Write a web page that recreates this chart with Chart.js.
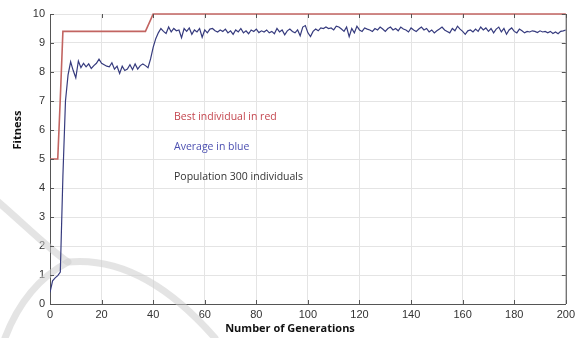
<!DOCTYPE html>
<html>
<head>
<meta charset="utf-8">
<script src="https://cdn.jsdelivr.net/npm/chart.js@4.4.1/dist/chart.umd.min.js"></script>
<style>
    body { margin: 0; background: #fff; }
    #wrap { width: 579px; height: 338px; position: relative; }
</style>
</head>
<body>
<div id="wrap"><canvas id="fitnessChart"></canvas></div>
<script>
// Best individual: step points (generation, fitness)
const bestGen     = [0, 3, 4, 5, 37, 38, 39, 40, 200];
const bestFitness = [5, 5, 7.1, 9.4, 9.4, 9.6, 9.8, 10, 10];

// Population average, one value per generation 0..200
const averageFitness = [
    0.40, 0.80, 0.90, 0.98, 1.10, 4.40, 7.00, 7.90, 8.35, 8.05,
    7.80, 8.38, 8.15, 8.30, 8.18, 8.28, 8.12, 8.22, 8.30, 8.44,
    8.30, 8.25, 8.20, 8.18, 8.32, 8.10, 8.20, 7.95, 8.20, 8.05,
    8.10, 8.25, 8.08, 8.28, 8.10, 8.22, 8.28, 8.22, 8.15, 8.45,
    8.85, 9.15, 9.35, 9.50, 9.40, 9.33, 9.55, 9.38, 9.50, 9.42,
    9.45, 9.18, 9.50, 9.40, 9.52, 9.30, 9.45, 9.38, 9.50, 9.20,
    9.45, 9.35, 9.48, 9.50, 9.42, 9.38, 9.45, 9.40, 9.48, 9.35,
    9.42, 9.30, 9.45, 9.38, 9.50, 9.35, 9.42, 9.32, 9.45, 9.40,
    9.48, 9.36, 9.42, 9.38, 9.45, 9.35, 9.40, 9.32, 9.50, 9.38,
    9.45, 9.28, 9.42, 9.48, 9.40, 9.35, 9.45, 9.25, 9.55, 9.60,
    9.35, 9.22, 9.40, 9.48, 9.42, 9.52, 9.50, 9.55, 9.50, 9.52,
    9.45, 9.58, 9.55, 9.48, 9.40, 9.55, 9.22, 9.50, 9.35, 9.58,
    9.45, 9.40, 9.52, 9.48, 9.45, 9.40, 9.50, 9.45, 9.55, 9.48,
    9.40, 9.50, 9.55, 9.45, 9.50, 9.42, 9.55, 9.48, 9.45, 9.38,
    9.52, 9.45, 9.40, 9.48, 9.55, 9.45, 9.50, 9.38, 9.45, 9.35,
    9.42, 9.48, 9.55, 9.45, 9.40, 9.35, 9.50, 9.42, 9.58, 9.48,
    9.40, 9.30, 9.42, 9.45, 9.38, 9.48, 9.40, 9.55, 9.45, 9.52,
    9.40, 9.50, 9.35, 9.48, 9.55, 9.38, 9.50, 9.30, 9.45, 9.52,
    9.40, 9.35, 9.48, 9.42, 9.35, 9.40, 9.38, 9.42, 9.40, 9.36,
    9.42, 9.38, 9.40, 9.35, 9.40, 9.33, 9.38, 9.32, 9.40, 9.42,
    9.45
];

const xTicks = [0, 20, 40, 60, 80, 100, 120, 140, 160, 180, 200];
const yTicks = [0, 1, 2, 3, 4, 5, 6, 7, 8, 9, 10];

const notes = [
    { text: 'Best individual in red', color: '#c4464f' },
    { text: 'Average in blue', color: '#4b4fb0' },
    { text: 'Population 300 individuals', color: '#333333' }
];

const RED = '#c26461';
const BLUE = '#363b7e';
const FRAME = '#555555';

// light grey swoosh behind the plot, then frame, inner ticks and texts
const decorPlugin = {
    id: 'decor',
    beforeDatasetsDraw(chart) {
        const ctx = chart.ctx;
        ctx.save();
        ctx.strokeStyle = 'rgba(205,205,205,0.55)';
        ctx.lineWidth = 7;
        ctx.lineCap = 'round';
        ctx.beginPath();
        ctx.moveTo(-4, 200);
        ctx.bezierCurveTo(25, 225, 50, 250, 68, 262);
        ctx.bezierCurveTo(110, 258, 160, 275, 215, 338);
        ctx.stroke();
        ctx.beginPath();
        ctx.moveTo(68, 262);
        ctx.quadraticCurveTo(25, 285, 5, 338);
        ctx.stroke();
        ctx.restore();
    },
    afterDraw(chart) {
        const ctx = chart.ctx;
        const a = chart.chartArea;
        const xs = chart.scales.x, ys = chart.scales.y;
        ctx.save();
        ctx.strokeStyle = FRAME;
        ctx.lineWidth = 1;
        ctx.beginPath();
        ctx.moveTo(a.right + 0.5, a.top);
        ctx.lineTo(a.right + 0.5, a.bottom);
        ctx.stroke();
        // inner tick marks on all four sides
        ctx.beginPath();
        xTicks.forEach(v => {
            const px = Math.round(xs.getPixelForValue(v)) + 0.5;
            ctx.moveTo(px, a.bottom); ctx.lineTo(px, a.bottom - 4);
            ctx.moveTo(px, a.top); ctx.lineTo(px, a.top + 4);
        });
        yTicks.forEach(v => {
            const py = Math.round(ys.getPixelForValue(v)) + 0.5;
            ctx.moveTo(a.left, py); ctx.lineTo(a.left + 4, py);
            ctx.moveTo(a.right, py); ctx.lineTo(a.right - 4, py);
        });
        ctx.stroke();

        // axis titles
        ctx.fillStyle = '#111';
        ctx.font = 'bold 11px "Open Sans"';
        ctx.textAlign = 'center';
        ctx.textBaseline = 'middle';
        ctx.fillText('Number of Generations', 290, 329);
        ctx.translate(18, 130);
        ctx.rotate(-Math.PI / 2);
        ctx.fillText('Fitness', 0, 0);
        ctx.setTransform(1, 0, 0, 1, 0, 0);

        // notes inside the plot
        ctx.font = '10.5px "Open Sans"';
        ctx.textAlign = 'left';
        notes.forEach((n, i) => {
            ctx.fillStyle = n.color;
            ctx.fillText(n.text, 174, 117 + i * 30);
        });
        ctx.restore();
    }
};

const tickFont = { family: '"Liberation Sans", Arial, sans-serif', size: 11 };

new Chart(document.getElementById('fitnessChart'), {
    type: 'line',
    data: {
        datasets: [
            {
                label: 'Best individual',
                data: bestGen.map((g, i) => ({ x: g, y: bestFitness[i] })),
                borderColor: RED,
                borderWidth: 1.6,
                pointRadius: 0,
                tension: 0,
                clip: 4
            },
            {
                label: 'Average',
                data: averageFitness.map((v, g) => ({ x: g, y: v })),
                borderColor: BLUE,
                borderWidth: 1.2,
                pointRadius: 0,
                tension: 0
            }
        ]
    },
    options: {
        responsive: true,
        maintainAspectRatio: false,
        animation: false,
        layout: { padding: { top: 14, right: 12, left: 0, bottom: 0 } },
        plugins: {
            legend: { display: false },
            tooltip: { enabled: false }
        },
        scales: {
            x: {
                type: 'linear',
                min: 0,
                max: 200,
                afterFit: s => { s.height = 34; },
                afterBuildTicks: s => { s.ticks = xTicks.map(v => ({ value: v })); },
                ticks: { color: '#333', font: tickFont, padding: 4, maxRotation: 0 },
                grid: { color: '#e4e4e4', drawTicks: false },
                border: { color: FRAME, width: 1 }
            },
            y: {
                min: 0,
                max: 10,
                afterFit: s => { s.width = 50; },
                afterBuildTicks: s => { s.ticks = yTicks.map(v => ({ value: v })); },
                ticks: { color: '#333', font: tickFont, padding: 5 },
                grid: { color: '#e4e4e4', drawTicks: false },
                border: { color: FRAME, width: 1 }
            }
        }
    },
    plugins: [decorPlugin]
});
</script>
</body>
</html>
